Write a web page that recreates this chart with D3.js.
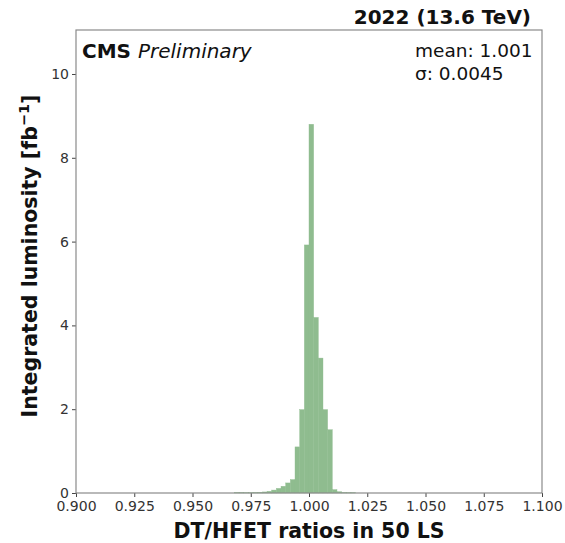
<!DOCTYPE html>
<html>
<head>
<meta charset="utf-8">
<script src="https://cdn.jsdelivr.net/npm/d3@7"></script>
<style>
  body { margin: 0; background: #fff; }
  text { font-family: "DejaVu Sans", sans-serif; }
</style>
</head>
<body>
<svg id="chart" width="565" height="543"></svg>
<script>
// histogram bins (left edges) and integrated luminosity per bin [fb^-1]
var binWidth = 0.002;
var binStarts = [0.968, 0.970, 0.972, 0.974, 0.976, 0.978, 0.980, 0.982, 0.984, 0.986,
                 0.988, 0.990, 0.992, 0.994, 0.996, 0.998, 1.000, 1.002, 1.004, 1.006,
                 1.008, 1.010, 1.012, 1.014, 1.016, 1.018];
var lumi = [0.01, 0.01, 0.005, 0.005, 0.01, 0.015, 0.025, 0.04, 0.07, 0.11,
            0.16, 0.24, 0.32, 1.10, 1.99, 5.92, 8.80, 4.19, 3.22, 1.99,
            1.51, 0.08, 0.03, 0.01, 0.005, 0.005];
var xTicks = [0.900, 0.925, 0.950, 0.975, 1.000, 1.025, 1.050, 1.075, 1.100];
var yTicks = [0, 2, 4, 6, 8, 10];

var margin = { left: 76, right: 23, top: 30, bottom: 50 };
var W = 565, H = 543;
var svg = d3.select('#chart');

var x = d3.scaleLinear().domain([0.9, 1.1]).range([margin.left, W - margin.right]);
var y = d3.scaleLinear().domain([0, 11.05]).range([H - margin.bottom, margin.top]);

// bars
svg.append('g')
    .selectAll('rect')
    .data(binStarts)
    .enter().append('rect')
    .attr('x', function(d) { return x(d); })
    .attr('width', function(d) { return x(d + binWidth) - x(d); })
    .attr('y', function(d, i) { return y(lumi[i]); })
    .attr('height', function(d, i) { return y(0) - y(lumi[i]); })
    .style('fill', '#8fbc8f')
    .style('stroke', '#8fbc8f')
    .style('stroke-width', 0.4);

// axes
var xAxis = svg.append('g')
    .attr('transform', 'translate(0,' + y(0) + ')')
    .call(d3.axisBottom(x).tickValues(xTicks).tickFormat(d3.format('.3f')).tickSize(4).tickPadding(4));
var yAxis = svg.append('g')
    .attr('transform', 'translate(' + x(0.9) + ',0)')
    .call(d3.axisLeft(y).tickValues(yTicks).tickSize(4).tickPadding(3));

[xAxis, yAxis].forEach(function(a) {
    a.select('.domain').remove();
    a.selectAll('line').style('stroke', '#444');
    a.selectAll('text').style('font-size', '14px').style('fill', '#333')
        .style('font-family', '"DejaVu Sans", sans-serif');
});

// frame
svg.append('rect')
    .attr('x', x(0.9)).attr('y', y(11.05))
    .attr('width', x(1.1) - x(0.9)).attr('height', y(0) - y(11.05))
    .style('fill', 'none').style('stroke', '#8a8a8a').style('stroke-width', 1.2);

// labels
svg.append('text')
    .attr('x', (x(0.9) + x(1.1)) / 2).attr('y', 538)
    .attr('text-anchor', 'middle')
    .style('font-size', '20.5px').style('font-weight', 'bold').style('fill', '#111')
    .text('DT/HFET ratios in 50 LS');

var yl = svg.append('text')
    .attr('transform', 'translate(37,256) rotate(-90)')
    .attr('text-anchor', 'middle')
    .style('font-size', '20.5px').style('font-weight', 'bold').style('fill', '#111');
yl.append('tspan').text('Integrated luminosity [fb');
yl.append('tspan').attr('dy', -8).style('font-size', '14.5px').text('\u22121');
yl.append('tspan').attr('dy', 8).text(']');

svg.append('text')
    .attr('x', 531).attr('y', 24)
    .attr('text-anchor', 'end')
    .style('font-size', '20px').style('font-weight', 'bold').style('fill', '#111')
    .text('2022 (13.6 TeV)');

var cms = svg.append('text')
    .attr('x', 82).attr('y', 58)
    .style('font-size', '20px').style('fill', '#111');
cms.append('tspan').style('font-weight', 'bold').text('CMS ');
cms.append('tspan').style('font-style', 'italic').text('Preliminary');

svg.append('text')
    .attr('x', 415).attr('y', 57)
    .style('font-size', '18.5px').style('fill', '#111')
    .text('mean: 1.001');
svg.append('text')
    .attr('x', 415).attr('y', 80)
    .style('font-size', '18.5px').style('fill', '#111')
    .text('\u03c3: 0.0045');
</script>
</body>
</html>
